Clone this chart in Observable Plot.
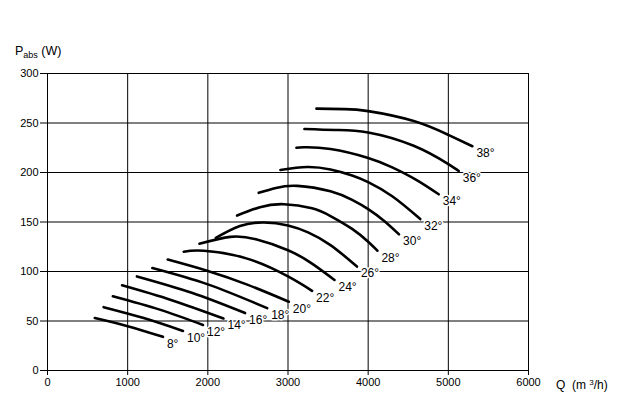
<!DOCTYPE html>
<html><head><meta charset="utf-8">
<script src="https://cdn.jsdelivr.net/npm/d3@7"></script>
<script src="https://cdn.jsdelivr.net/npm/@observablehq/plot@0.6"></script>
<style>body{margin:0;background:#fff} svg{display:block}</style>
</head><body><div id="chart"></div>
<script>
const angles = [8, 10, 12, 14, 16, 18, 20, 22, 24, 26, 28, 30, 32, 34, 36, 38];
const flowQ = [
  [590, 1000, 1440],
  [700, 1200, 1690],
  [815, 1400, 1940],
  [930, 1550, 2195],
  [1115, 1800, 2465],
  [1308, 2000, 2740],
  [1500, 2000, 2500, 3010],
  [1700, 1950, 2490, 3000, 3300],
  [1895, 2280, 2600, 3000, 3300, 3580],
  [2100, 2400, 2700, 3000, 3250, 3530, 3860],
  [2365, 2650, 2950, 3300, 3530, 3800, 4000, 4115],
  [2635, 2850, 3116, 3530, 3800, 4000, 4200, 4385],
  [2905, 3237, 3530, 3800, 4000, 4300, 4650],
  [3105, 3200, 3530, 4000, 4300, 4600, 4880],
  [3205, 3600, 4000, 4568, 5000, 5130],
  [3355, 3700, 4000, 4568, 5000, 5300]
];
const powerP = [
  [53, 44.8, 34],
  [64, 53, 40],
  [75, 61.5, 46],
  [86, 71, 52.5],
  [95, 78.5, 58],
  [103.5, 87, 63],
  [112, 100.5, 86.5, 69.5],
  [120, 121, 113, 95, 80.5],
  [128, 135, 132.5, 121.5, 108, 91.5],
  [134, 146, 149.5, 146.5, 139.5, 126.7, 105],
  [156.5, 165, 168, 163.8, 156, 143, 130, 121],
  [179.5, 184.4, 186.5, 181, 172.3, 163, 151, 137.5],
  [202.6, 205.5, 203, 197, 190.2, 176, 153],
  [225, 225.5, 223.7, 214.7, 205.2, 192.6, 178],
  [244, 243, 240.5, 227, 208.5, 201.5],
  [264.5, 264, 262, 252, 238, 226.5]
];
const xTicks = [0, 1000, 2000, 3000, 4000, 5000, 6000];
const yTicks = [0, 50, 100, 150, 200, 250, 300];

const rows = angles.flatMap((a, i) => flowQ[i].map((q, j) => ({angle: a, q, p: powerP[i][j]})));
const ends = angles.map((a, i) => ({angle: a, q: flowQ[i][flowQ[i].length - 1], p: powerP[i][powerP[i].length - 1], label: a + "°"}));

const font = "'Liberation Sans', Arial, Helvetica, sans-serif";
const plot = Plot.plot({
  width: 628, height: 412,
  marginLeft: 47, marginRight: 100, marginTop: 73, marginBottom: 42,
  style: {fontFamily: font, fontSize: "11px", background: "white", color: "black"},
  x: {domain: [0, 6000]},
  y: {domain: [0, 300]},
  marks: [
    Plot.gridX({ticks: xTicks, stroke: "black", strokeOpacity: 1, strokeWidth: 1}),
    Plot.gridY({ticks: yTicks, stroke: "black", strokeOpacity: 1, strokeWidth: 1}),
    Plot.frame({stroke: "black", strokeWidth: 1}),
    Plot.axisX({ticks: xTicks, tickSize: 5, tickPadding: 3, label: null, tickFormat: d => String(d)}),
    Plot.axisY({ticks: yTicks, tickSize: 7, tickPadding: 2, label: null, tickFormat: d => String(d)}),
    Plot.line(rows, {x: "q", y: "p", z: "angle", stroke: "black", strokeWidth: 2.6, strokeLinecap: "round", curve: "natural"}),
    Plot.text(ends, {x: "q", y: "p", text: "label", textAnchor: "start", lineAnchor: "middle", dx: 4, dy: 7, fontSize: 12, fill: "black", stroke: "white", strokeWidth: 3})
  ]
});
document.getElementById("chart").appendChild(plot);

const svg = d3.select(plot);
const yl = svg.append("text").attr("x", 15).attr("y", 55).attr("text-anchor", "start")
  .attr("font-family", font).attr("font-size", 12.5).attr("fill", "black");
yl.append("tspan").text("P");
yl.append("tspan").attr("font-size", 9).attr("dy", 3).text("abs");
yl.append("tspan").attr("dy", -3).text(" (W)");

const xl = svg.append("text").attr("x", 556).attr("y", 389).attr("text-anchor", "start")
  .attr("font-family", font).attr("font-size", 12).attr("fill", "black");
xl.append("tspan").text("Q  (m ");
xl.append("tspan").attr("font-size", 8).attr("dy", -4).text("3");
xl.append("tspan").attr("dy", 4).text("/h)");
</script>
</body></html>
